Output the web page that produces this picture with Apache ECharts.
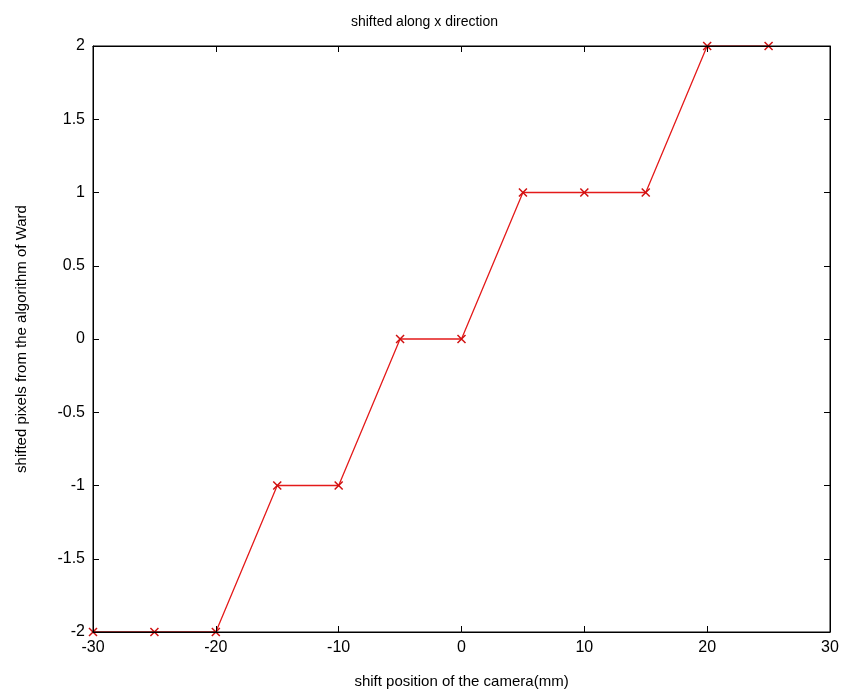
<!DOCTYPE html>
<html>
<head>
<meta charset="utf-8">
<script src="https://cdn.jsdelivr.net/npm/echarts@6/dist/echarts.min.js"></script>
<style>
  html, body { margin: 0; padding: 0; background: #fff; }
  #chart { width: 849px; height: 694px; }
</style>
</head>
<body>
<div id="chart"></div>
<script>
// shift position (mm) and shifted pixels
const shiftPos = [-30, -25, -20, -15, -10, -5, 0, 5, 10, 15, 20, 25]
const shiftPixels = [-2, -2, -2, -1, -1, 0, 0, 1, 1, 1, 2, 2]
const xTicks = [-30, -20, -10, 0, 10, 20, 30]
const yTicks = [-2, -1.5, -1, -0.5, 0, 0.5, 1, 1.5, 2]

const chart = echarts.init(document.getElementById('chart'))

const font = 'Arial, "Liberation Sans", sans-serif'
const tickStyle = { show: true, inside: true, length: 6, lineStyle: { color: '#000', width: 1 } }
const crossPath = 'path://M0,0L10,10M10,0L0,10'

const option = {
  backgroundColor: '#fff',
  animation: false,
  title: {
    text: 'shifted along x direction',
    left: 'center',
    top: 10,
    textStyle: { fontFamily: font, fontSize: 14, fontWeight: 'normal', color: '#000' }
  },
  grid: {
    left: 93, right: 19, top: 46, bottom: 62,
    show: true, borderColor: '#000', borderWidth: 1, backgroundColor: 'transparent', z: 5
  },
  xAxis: [{
    type: 'value',
    min: -30, max: 30, interval: 10,
    name: 'shift position of the camera(mm)',
    nameLocation: 'middle', nameGap: 42,
    nameTextStyle: { fontFamily: font, fontSize: 15, color: '#000' },
    axisLine: { show: true, onZero: false, lineStyle: { color: '#000' } },
    axisTick: tickStyle,
    splitLine: { show: false },
    axisLabel: { fontFamily: font, fontSize: 16, color: '#000', margin: 8 },
    z: 5
  }, {
    type: 'value', position: 'top',
    min: -30, max: 30, interval: 10,
    axisLine: { show: true, onZero: false, lineStyle: { color: '#000' } },
    axisTick: tickStyle,
    splitLine: { show: false },
    axisLabel: { show: false },
    z: 5
  }],
  yAxis: [{
    type: 'value',
    min: -2, max: 2, interval: 0.5,
    name: 'shifted pixels from the algorithm of Ward',
    nameLocation: 'middle', nameGap: 64,
    nameTextStyle: { fontFamily: font, fontSize: 15, color: '#000' },
    axisLine: { show: true, onZero: false, lineStyle: { color: '#000' } },
    axisTick: tickStyle,
    splitLine: { show: false },
    axisLabel: { fontFamily: font, fontSize: 16, color: '#000', margin: 8 },
    z: 5
  }, {
    type: 'value', position: 'right',
    min: -2, max: 2, interval: 0.5,
    axisLine: { show: true, onZero: false, lineStyle: { color: '#000' } },
    axisTick: tickStyle,
    splitLine: { show: false },
    axisLabel: { show: false },
    z: 5
  }],
  series: [{
    type: 'line',
    data: shiftPos.map((x, i) => [x, shiftPixels[i]]),
    z: 1,
    symbol: crossPath,
    symbolSize: 8,
    showAllSymbol: true,
    lineStyle: { color: '#e41a1a', width: 1.3 },
    itemStyle: { color: 'transparent', borderColor: '#d01010', borderWidth: 1.5 }
  }]
}

chart.setOption(option)
</script>
</body>
</html>
